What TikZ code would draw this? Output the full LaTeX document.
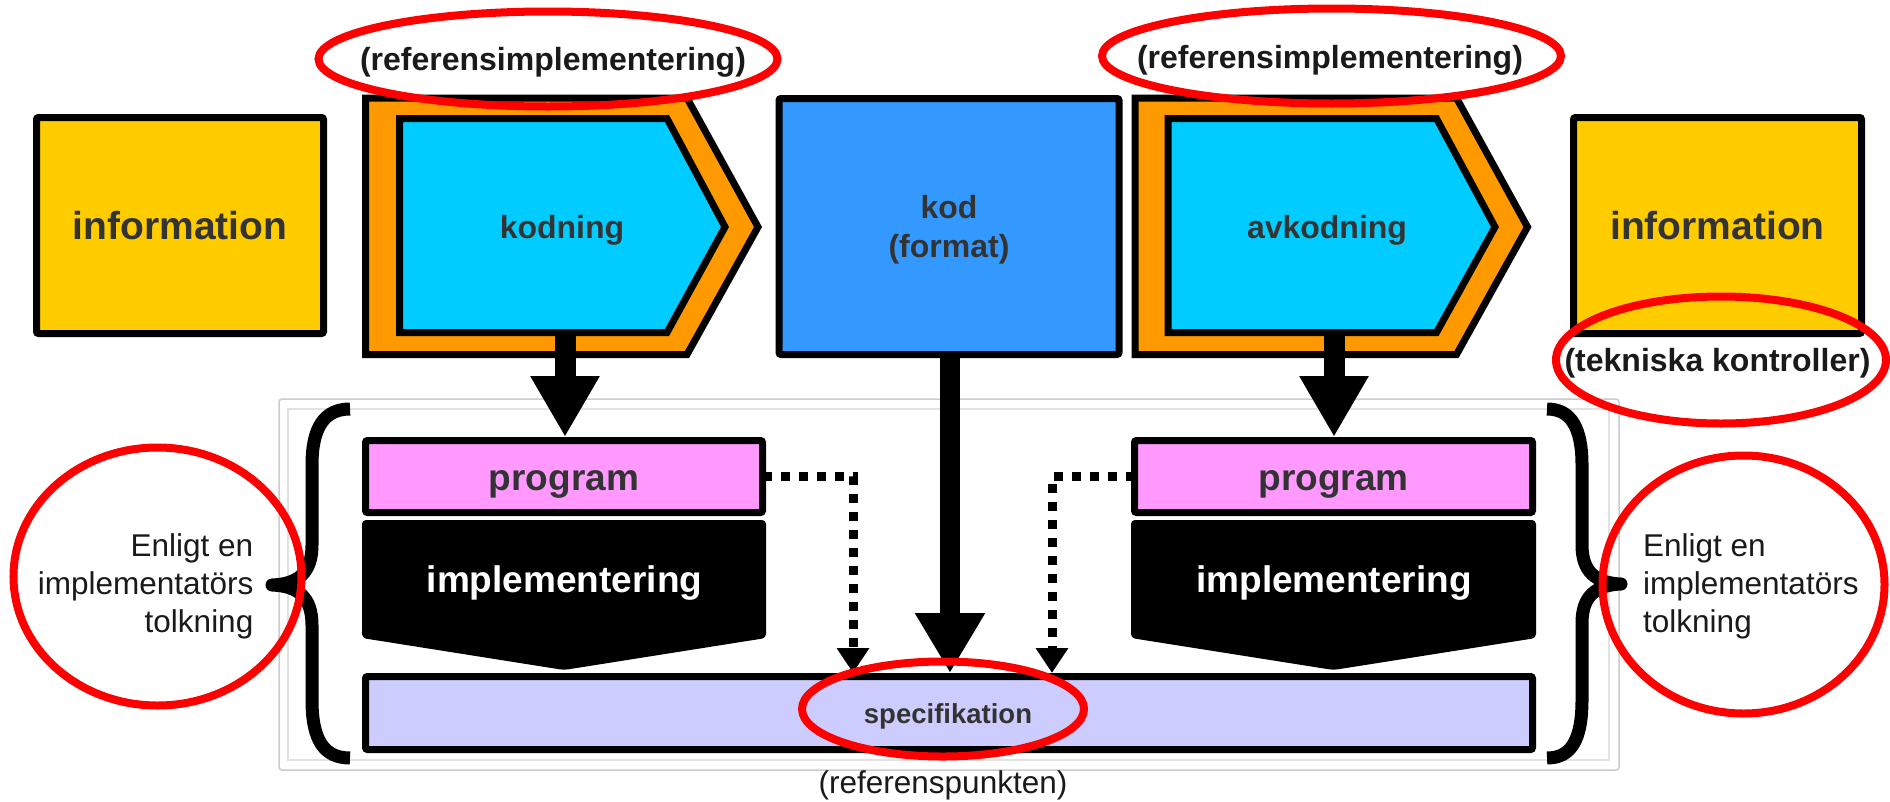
\documentclass[tikz,border=0pt]{standalone}
\usepackage{fontspec}
\setmainfont{Liberation Sans}
\usetikzlibrary{arrows.meta}
\definecolor{infoY}{HTML}{FFCC00}
\definecolor{orangeC}{HTML}{FF9900}
\definecolor{cyanC}{HTML}{00CCFF}
\definecolor{kodB}{HTML}{3399FF}
\definecolor{pinkC}{HTML}{FF99FF}
\definecolor{lavC}{HTML}{CCCCFF}
\definecolor{txtG}{HTML}{333333}
\definecolor{txtK}{HTML}{1A1A1A}
\definecolor{frameA}{HTML}{CCCCCC}
\definecolor{frameB}{HTML}{E2E2E2}
\begin{document}
\begin{tikzpicture}[x=1pt,y=-1pt,
  box/.style={draw=black,line width=7pt,inner sep=0pt,outer sep=0pt,rounded corners=2pt},
  shapeline/.style={draw=black,line width=7pt,line join=miter},
  lbl/.style={inner sep=0pt,anchor=base,text=txtG,font=\bfseries\fontsize{#1}{#1}\selectfont},
  blk/.style={inner sep=0pt,anchor=base,text=txtK,font=\bfseries\fontsize{32pt}{32pt}\selectfont},
  plain/.style={inner sep=0pt,text=txtK,font=\fontsize{31.5pt}{31.5pt}\selectfont},
  bigarrow/.style={draw=black,line width=21pt,-{Triangle[width=65pt,length=61pt]}},
  dotarrow/.style={draw=black,line width=9pt,dash pattern=on 9pt off 9pt,-{Triangle[width=31pt,length=25pt]}},
  brace/.style={draw=black,line width=13pt,line join=round},
  redring/.style={draw=red,line width=8pt}
]
\useasboundingbox (0,0) rectangle (1890,801);
\fill[white] (0,0) rectangle (1890,801);

% frames
\draw[frameA,line width=1.5pt,rounded corners=3pt] (279,399) rectangle (1619,770);
\draw[frameB,line width=2pt] (288,409) rectangle (1609,760);

% braces
\draw[brace] (350,409) .. controls (324,409) and (312,428) .. (312,465) -- (312,545)
  .. controls (312,573) and (298,584) .. (272,585)
  .. controls (298,586) and (312,597) .. (312,625) -- (312,700)
  .. controls (312,740) and (324,758) .. (350,758);
\draw[brace] (1547,409) .. controls (1571,409) and (1582,428) .. (1582,465) -- (1582,545)
  .. controls (1582,572) and (1596,583) .. (1621,584)
  .. controls (1596,585) and (1582,596) .. (1582,623) -- (1582,700)
  .. controls (1582,740) and (1571,758) .. (1547,758);

% information boxes
\node[box,fill=infoY,minimum width=287pt,minimum height=216pt] (infoL) at (180,225.5) {};
\node[box,fill=infoY,minimum width=288pt,minimum height=216pt] (infoR) at (1717.5,225.5) {};

% kodning
\path[shapeline,fill=orangeC] (365.5,98) -- (687,98) -- (758,227) -- (687,354.5) -- (365.5,354.5) -- cycle;
\path[shapeline,fill=cyanC] (399.5,118.5) -- (667,118.5) -- (725,227) -- (667,332.5) -- (399.5,332.5) -- cycle;
% avkodning
\path[shapeline,fill=orangeC] (1135,98) -- (1456.5,98) -- (1527.5,227) -- (1456.5,354.5) -- (1135,354.5) -- cycle;
\path[shapeline,fill=cyanC] (1168,118.5) -- (1436.5,118.5) -- (1495,227) -- (1436.5,332.5) -- (1168,332.5) -- cycle;

% kod box
\node[box,fill=kodB,minimum width=340pt,minimum height=256pt] (kod) at (949,226.5) {};

% program boxes
\node[box,fill=pinkC,minimum width=397pt,minimum height=72pt] (progL) at (564,476.5) {};
\node[box,fill=pinkC,minimum width=398pt,minimum height=72pt] (progR) at (1333.5,476.5) {};

% implementering shapes
\fill[black,rounded corners=4pt] (362,520) -- (766,520) -- (766,638) -- (564,670) -- (362,638) -- cycle;
\fill[black,rounded corners=4pt] (1131,520) -- (1536,520) -- (1536,638) -- (1333.5,670) -- (1131,638) -- cycle;

% specifikation box
\node[box,fill=lavC,minimum width=1167pt,minimum height=73pt] (spec) at (949,713) {};

% connectors
\coordinate (kodningS) at (565,333);
\coordinate (avkodS) at (1334,333);
\coordinate (dotL) at (853,673);
\coordinate (dotR) at (1052,673);
\coordinate (progLt) at (565,437);
\coordinate (progRt) at (1334,437);
\coordinate (specK) at (950,673);
\coordinate (kodS) at (950,354);
\draw[bigarrow] (kodningS) -- (progLt);
\draw[bigarrow] (avkodS) -- (progRt);
\draw[bigarrow,line width=20pt,-{Triangle[width=66pt,length=60pt]}] (kodS) -- (specK);
\draw[dotarrow] (progL.east) -| (dotL);
\draw[dotarrow] (progR.west) -| (dotR);

% labels
\node[lbl=39pt] (tinfoL) at (180,239) {information};
\node[lbl=39pt] (tinfoR) at (1717.5,239) {information};
\node[lbl=32pt] (tkodning) at (562,238) {kodning};
\node[lbl=32pt] (tavkodning) at (1327,238) {avkodning};
\node[lbl=32pt] (tkod) at (949,218) {kod};
\node[lbl=32pt] (tformat) at (949,257) {(format)};
\node[lbl=37pt] (tprogL) at (564,490) {program};
\node[lbl=37pt] (tprogR) at (1333.5,490) {program};
\node[lbl=37pt,text=white] (timpL) at (564.5,592) {implementering};
\node[lbl=37pt,text=white] (timpR) at (1334,592) {implementering};
\node[lbl=27.5pt] (tspec) at (948,723) {specifikation};
\node[plain,anchor=base] (tpunkt) at (943,793) {(referenspunkten)};
\node[blk] (trefL) at (553,70) {(referensimplementering)};
\node[blk] (trefR) at (1330,68) {(referensimplementering)};
\node[blk] (ttek) at (1717.5,371) {(tekniska kontroller)};
\node[plain,anchor=base east] (eL1) at (253.5,556) {Enligt en};
\node[plain,anchor=base east] (eL2) at (253.5,594) {implementatörs};
\node[plain,anchor=base east] (eL3) at (253.5,632) {tolkning};
\node[plain,anchor=base west] (eR1) at (1643,556) {Enligt en};
\node[plain,anchor=base west] (eR2) at (1643,594) {implementatörs};
\node[plain,anchor=base west] (eR3) at (1643,632) {tolkning};

% red ellipses
\draw[redring] (548,59) ellipse [x radius=229.5pt,y radius=47.5pt];
\draw[redring] (1331.5,56) ellipse [x radius=229.5pt,y radius=47.5pt];
\draw[redring] (1721,360) ellipse [x radius=165pt,y radius=63.5pt];
\draw[redring] (157.5,576.5) ellipse [x radius=144pt,y radius=129pt];
\draw[redring] (1743.5,584.5) ellipse [x radius=141pt,y radius=129pt];
\draw[redring] (943,709) ellipse [x radius=141pt,y radius=47.5pt];
\end{tikzpicture}
\end{document}
